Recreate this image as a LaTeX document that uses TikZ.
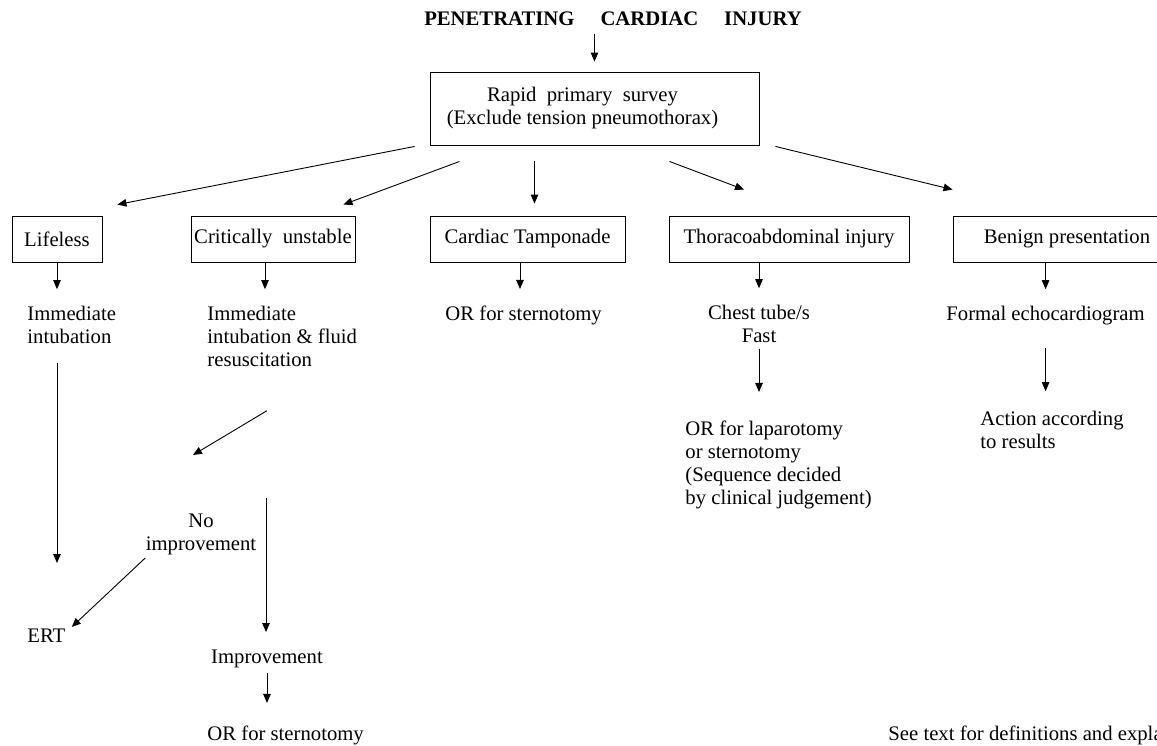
\documentclass[tikz,border=0pt]{standalone}
\usepackage{fontspec}
\setmainfont{Liberation Serif}
\usepackage{tikz}
\usetikzlibrary{positioning}
\usetikzlibrary{arrows.meta}

\begin{document}
\begin{tikzpicture}[x=1pt,y=-1pt,
    font=\fontsize{20.7}{23}\selectfont,
    line width=0.9pt,
    arr/.style={-{Triangle[length=9pt,width=7.5pt]}},
    box/.style={draw,inner sep=0pt,minimum height=46pt},
    txt/.style={inner sep=0pt,anchor=base west,align=left},
    ctxt/.style={inner sep=0pt,anchor=base,align=center}]
    \useasboundingbox (0,0) rectangle (1157,745);

    % base anchor = baseline of the last line
    \node[ctxt,font=\fontsize{20.7}{23}\selectfont\bfseries] (title) at (613,25)
        {PENETRATING\hspace{26pt}CARDIAC\hspace{26pt}INJURY};
    \node[box,minimum width=329pt,minimum height=73pt,align=center] (survey) at (594.5,108.5)
        {Rapid\ \ primary\ \ survey\hspace*{24pt}\\(Exclude tension pneumothorax)\hspace*{24pt}};

    \node[box,minimum width=90pt]  (lifeless) at (57,239)   {Lifeless};
    \node[box,minimum width=164pt] (crit)     at (273,239)  {Critically\ \ unstable};
    \node[box,minimum width=195pt] (tamp)     at (527.5,239) {Cardiac Tamponade};
    \node[box,minimum width=240pt] (thor)     at (789,239)  {Thoracoabdominal injury};
    \node[box,minimum width=228pt] (benign)   at (1067,239) {Benign presentation};

    \node[txt]  (immL)   at (27,343)  {Immediate\\intubation};
    \node[txt]  (immC)   at (207,366) {Immediate\\intubation \& fluid\\resuscitation};
    \node[txt]  (orT)    at (445,320) {OR for sternotomy};
    \node[ctxt] (chest)  at (759,342) {Chest tube/s\\Fast};
    \node[txt]  (formal) at (946,320) {Formal echocardiogram};

    \node[txt]  (orL)    at (685,504) {OR for laparotomy\\or sternotomy\\(Sequence decided\\by clinical judgement)};
    \node[txt]  (action) at (980,448) {Action according\\to results};

    \node[ctxt] (noimp)  at (201,550) {No\\improvement};
    \node[txt]  (ert)    at (27,642)  {ERT};
    \node[ctxt] (imp)    at (267,663) {Improvement};
    \node[txt]  (orS)    at (207,740) {OR for sternotomy};
    \node[txt]  (note)   at (888,740) {See text for definitions and explanations};

    \coordinate (split) at (266,498);

    \draw[arr,shorten <=8pt,shorten >=10pt] (survey.north |- title.south) -- (survey.north);

    \draw[arr] ([shift={(-15,1)}]survey.south west) -- ([shift={(15,-11)}]lifeless.north east);
    \draw[arr] ([shift={(30,16)}]survey.south west) -- ([shift={(-12,-11)}]crit.north east);
    \draw[arr] ([shift={(-60,16)}]survey.south) -- ([shift={(7,-12)}]tamp.north);
    \draw[arr] ([shift={(-90,16)}]survey.south east) -- ([shift={(-45,-26)}]thor.north);
    \draw[arr] ([shift={(16,1)}]survey.south east) -- ([shift={(0,-26)}]benign.north west);

    \draw[arr,shorten >=16pt] (lifeless.south) -- (lifeless.south |- immL.north);
    \draw[arr,shorten >=16pt] ([shift={(-8,0)}]crit.south) -- ([shift={(-8,0)}]crit.south |- immC.north);
    \draw[arr,shorten >=16pt] ([shift={(-7.5,0)}]tamp.south) -- ([shift={(-7.5,0)}]tamp.south |- orT.north);
    \draw[arr,shorten >=16pt] (thor.south -| chest) -- (chest.north);
    \draw[arr,shorten >=16pt] (benign.south -| formal) -- (formal.north);

    \draw[arr,shorten <=6pt,shorten >=28pt] (chest.south) -- (chest.south |- orL.north);
    \draw[arr,shorten <=23pt,shorten >=19pt] (formal.south) -- (formal.south |- action.north);

    \draw[arr,shorten <=19pt,shorten >=65pt] (immL.south -| lifeless) -- (lifeless |- ert.north);
    \draw[arr] ([shift={(60,44)}]immC.south west) -- ([shift={(-8,-58)}]noimp.north);
    \draw[arr] ([shift={(0,3)}]noimp.south west) -- ([shift={(6,-1)}]ert.north east);
    \draw[arr,shorten >=17pt] (split) -- (split |- imp.north);
    \draw[arr,shorten <=5pt,shorten >=22pt] (imp.south) -- (imp.south |- orS.north);
\end{tikzpicture}
\end{document}
